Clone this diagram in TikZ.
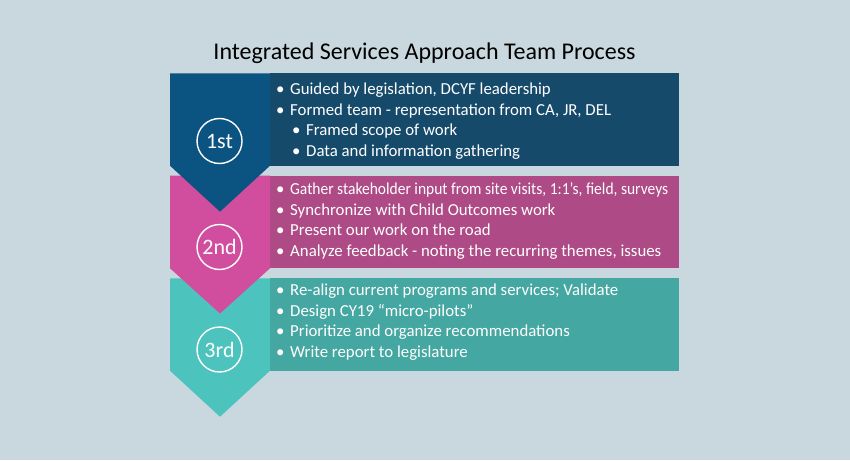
\documentclass[tikz,border=0pt]{standalone}
\usepackage{graphicx}
\usepackage{fontspec}
\setmainfont{Carlito}
\definecolor{bgcol}{HTML}{C9D8DF}
\definecolor{bluearrow}{HTML}{0B5381}
\definecolor{bluebox}{HTML}{164A6B}
\definecolor{pinkarrow}{HTML}{D14E9E}
\definecolor{pinkbox}{HTML}{AE4A86}
\definecolor{tealarrow}{HTML}{4CC3BD}
\definecolor{tealbox}{HTML}{45A7A1}
\tikzset{
  stepring/.style = {circle, draw = white, line width = 1.4pt, minimum size = 45pt,
    inner sep = 0pt, text = white, font = \fontsize{22}{22}\selectfont},
  itemtext/.style = {anchor = base west, inner sep = 0pt, text = white,
    font = \fontsize{16.8}{16.8}\selectfont},
}
\begin{document}
\begin{tikzpicture}[x = 1pt, y = -1pt]
        \fill[bgcol] (0, 0) rectangle (850, 460);
        \useasboundingbox (0, 0) rectangle (850, 460);
        \node[anchor = base, inner sep = 0pt, font = \fontsize{24}{24}\selectfont] (title) at (424.5, 59.3) {Integrated Services Approach Team Process};
        % third step
        \fill[tealbox] (270, 278.3) rectangle (679, 370.7);
        \fill[tealarrow] (170, 278.3) -- (270, 278.3) -- (270, 370.7) -- (220, 416.7) -- (170, 370.7) -- cycle;
        % second step
        \fill[pinkbox] (270, 175.7) rectangle (679, 268.3);
        \fill[pinkarrow] (170, 175.7) -- (270, 175.7) -- (270, 268.3) -- (220, 313.5) -- (170, 268.3) -- cycle;
        % first step
        \fill[bluebox] (270, 73.3) rectangle (679, 165.7);
        \fill[bluearrow] (170, 73.3) -- (270, 73.3) -- (270, 165.7) -- (220, 211.7) -- (170, 165.7) -- cycle;
        \node[stepring] (first) at (219.5, 141) {1st};
        \node[stepring] (second) at (219.5, 247) {2nd};
        \node[stepring] (third) at (219.5, 349.5) {3rd};
        \node[itemtext] (b1a) at (276, 94) {\textbullet};
        \node[itemtext] (t1a) at (290, 94) {Guided by legislation, DCYF leadership};
        \node[itemtext] (b1b) at (276, 115) {\textbullet};
        \node[itemtext] (t1b) at (290, 115) {Formed team - representation from CA, JR, DEL};
        \node[itemtext] (b1c) at (292, 135.5) {\textbullet};
        \node[itemtext] (t1c) at (306, 135.5) {Framed scope of work};
        \node[itemtext] (b1d) at (292, 156) {\textbullet};
        \node[itemtext] (t1d) at (306, 156) {Data and information gathering};
        \node[itemtext] (b2a) at (276, 194) {\textbullet};
        \node[itemtext] (t2a) at (290, 194) {\resizebox{378pt}{\height}{Gather stakeholder input from site visits, 1:1’s, field, surveys}};
        \node[itemtext] (b2b) at (276, 215) {\textbullet};
        \node[itemtext] (t2b) at (290, 215) {Synchronize with Child Outcomes work};
        \node[itemtext] (b2c) at (276, 235) {\textbullet};
        \node[itemtext] (t2c) at (290, 235) {Present our work on the road};
        \node[itemtext] (b2d) at (276, 256) {\textbullet};
        \node[itemtext] (t2d) at (290, 256) {Analyze feedback - noting the recurring themes, issues};
        \node[itemtext] (b3a) at (276, 295) {\textbullet};
        \node[itemtext] (t3a) at (290, 295) {Re-align current programs and services; Validate};
        \node[itemtext] (b3b) at (276, 316) {\textbullet};
        \node[itemtext] (t3b) at (290, 316) {Design CY19 “micro-pilots”};
        \node[itemtext] (b3c) at (276, 336) {\textbullet};
        \node[itemtext] (t3c) at (290, 336) {Prioritize and organize recommendations};
        \node[itemtext] (b3d) at (276, 357) {\textbullet};
        \node[itemtext] (t3d) at (290, 357) {Write report to legislature};
    \end{tikzpicture}
\end{document}
